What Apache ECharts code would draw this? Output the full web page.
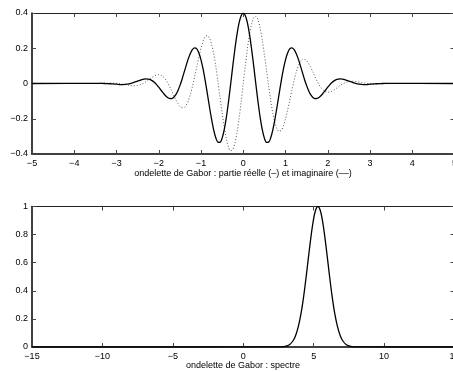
<!DOCTYPE html>
<html>
<head>
<meta charset="utf-8">
<script src="https://cdn.jsdelivr.net/npm/echarts@6/dist/echarts.min.js"></script>
<style>
html,body{margin:0;padding:0;background:#fff;}
#chart{width:453px;height:372px;}
</style>
</head>
<body>
<div id="chart"></div>
<script>
// ---- data ----
const timeX = [-5,
  -3.5,-3.4,-3.3,-3.2,-3.1,-3.0,-2.9,-2.8,-2.7,-2.6,
  -2.5,-2.45,-2.4,-2.35,-2.3,-2.25,-2.2,-2.15,-2.1,-2.05,
  -2.0,-1.95,-1.9,-1.85,-1.8,-1.75,-1.7,-1.65,-1.6,-1.55,
  -1.5,-1.45,-1.4,-1.35,-1.3,-1.25,-1.2,-1.15,-1.1,-1.05,
  -1.0,-0.95,-0.9,-0.85,-0.8,-0.75,-0.7,-0.65,-0.6,-0.55,
  -0.5,-0.45,-0.4,-0.35,-0.3,-0.25,-0.2,-0.15,-0.1,-0.05,
  0,
  0.05,0.1,0.15,0.2,0.25,0.3,0.35,0.4,0.45,0.5,
  0.55,0.6,0.65,0.7,0.75,0.8,0.85,0.9,0.95,1.0,
  1.05,1.1,1.15,1.2,1.25,1.3,1.35,1.4,1.45,1.5,
  1.55,1.6,1.65,1.7,1.75,1.8,1.85,1.9,1.95,2.0,
  2.05,2.1,2.15,2.2,2.25,2.3,2.35,2.4,2.45,2.5,
  2.6,2.7,2.8,2.9,3.0,3.1,3.2,3.3,3.4,3.5,
  5];
const realPart = [0,
  0.001,0.001,0.000,-0.001,-0.002,-0.004,-0.006,-0.005,-0.002,0.005,
  0.014,0.018,0.022,0.025,0.026,0.025,0.022,0.015,0.006,-0.006,
  -0.021,-0.037,-0.052,-0.067,-0.078,-0.085,-0.086,-0.080,-0.065,-0.042,
  -0.012,0.023,0.063,0.103,0.141,0.172,0.194,0.202,0.196,0.173,
  0.134,0.081,0.015,-0.057,-0.132,-0.202,-0.263,-0.308,-0.333,-0.334,
  -0.310,-0.262,-0.192,-0.105,-0.007,0.094,0.191,0.276,0.342,0.385,
  0.399,
  0.385,0.342,0.276,0.191,0.094,-0.007,-0.105,-0.192,-0.262,-0.310,
  -0.334,-0.333,-0.308,-0.263,-0.202,-0.132,-0.057,0.015,0.081,0.134,
  0.173,0.196,0.202,0.194,0.172,0.141,0.103,0.063,0.023,-0.012,
  -0.042,-0.065,-0.080,-0.086,-0.085,-0.078,-0.067,-0.052,-0.037,-0.021,
  -0.006,0.006,0.015,0.022,0.025,0.026,0.025,0.022,0.018,0.014,
  0.005,-0.002,-0.005,-0.006,-0.004,-0.002,-0.001,0.000,0.001,0.001,
  0];
const imagPart = [0,
  0.000,0.001,0.002,0.002,0.002,0.001,-0.002,-0.006,-0.010,-0.013,
  -0.011,-0.008,-0.003,0.003,0.010,0.019,0.028,0.036,0.044,0.048,
  0.050,0.047,0.039,0.027,0.009,-0.013,-0.038,-0.064,-0.090,-0.112,
  -0.129,-0.137,-0.136,-0.123,-0.098,-0.061,-0.015,0.039,0.095,0.151,
  0.201,0.241,0.266,0.272,0.258,0.223,0.168,0.097,0.013,-0.077,
  -0.166,-0.247,-0.314,-0.360,-0.381,-0.375,-0.341,-0.282,-0.201,-0.104,
  0,
  0.104,0.201,0.282,0.341,0.375,0.381,0.360,0.314,0.247,0.166,
  0.077,-0.013,-0.097,-0.168,-0.223,-0.258,-0.272,-0.266,-0.241,-0.201,
  -0.151,-0.095,-0.039,0.015,0.061,0.098,0.123,0.136,0.137,0.129,
  0.112,0.090,0.064,0.038,0.013,-0.009,-0.027,-0.039,-0.047,-0.050,
  -0.048,-0.044,-0.036,-0.028,-0.019,-0.010,-0.003,0.003,0.008,0.011,
  0.013,0.010,0.006,0.002,-0.001,-0.002,-0.002,-0.002,-0.001,0.000,
  0];
const freqX = [-15,2.5,2.7,2.9,3.1,3.3,3.5,3.7,3.9,4.1,4.3,4.5,4.7,4.9,5.1,5.3,5.5,5.7,5.9,6.1,6.3,6.5,6.7,6.9,7.1,7.3,7.5,7.7,7.9,8.1,15];
const spectrum = [0,0.0004,0.0012,0.0032,0.0079,0.0183,0.0392,0.0773,0.1409,0.2369,0.3679,0.5273,0.6977,0.8521,0.9608,1,0.9608,0.8521,0.6977,0.5273,0.3679,0.2369,0.1409,0.0773,0.0392,0.0183,0.0079,0.0032,0.0012,0.0004,0];
const topXTicks = {min:-5, max:5, interval:1};
const topYTicks = {min:-0.4, max:0.4, interval:0.2};
const botXTicks = {min:-15, max:15, interval:5};
const botYTicks = {min:0, max:1, interval:0.2};
const topLabel = 'ondelette de Gabor : partie réelle (–) et imaginaire (––)';
const botLabel = 'ondelette de Gabor : spectre';

// ---- chart ----
const FONT = '"Liberation Sans", Arial, Helvetica, sans-serif';
const fmt = v => { const r = Math.round(v*10)/10; return String(r).replace('-', '\u2212'); };
const lbl = {show:true, fontSize:9, fontFamily:FONT, color:'#000', formatter:fmt};
const mainLine = {show:true, onZero:false, lineStyle:{color:'#000', width:1.5}};
const thinLine = {show:true, onZero:false, lineStyle:{color:'#222', width:1}};
const tick = {show:true, inside:true, length:4, lineStyle:{color:'#444', width:1}};

function xAx(grid, t, primary){
  return Object.assign({type:'value', gridIndex:grid, position: primary?'bottom':'top',
    axisLine: primary?mainLine:thinLine, axisTick:tick, splitLine:{show:false},
    axisLabel: primary?Object.assign({margin:5, showMaxLabel:true, showMinLabel:true, hideOverlap:false}, lbl):{show:false}}, t);
}
function yAx(grid, t, primary){
  return Object.assign({type:'value', gridIndex:grid, position: primary?'left':'right',
    axisLine: primary?mainLine:thinLine, axisTick:tick, splitLine:{show:false},
    axisLabel: primary?Object.assign({margin:4}, lbl):{show:false}}, t);
}
const pairs = (xs, ys) => xs.map((x,i)=>[x, ys[i]]);

const chart = echarts.init(document.getElementById('chart'), null, {renderer:'canvas'});
chart.setOption({
  animation:false,
  backgroundColor:'#fff',
  grid:[
    {left:32, right:-1.5, top:13, height:141, containLabel:false, outerBoundsMode:'none'},
    {left:32, right:-1.5, top:206.5, height:140.5, containLabel:false, outerBoundsMode:'none'}
  ],
  xAxis:[xAx(0, topXTicks, true), xAx(0, topXTicks, false), xAx(1, botXTicks, true), xAx(1, botXTicks, false)],
  yAxis:[yAx(0, topYTicks, true), yAx(0, topYTicks, false), yAx(1, botYTicks, true), yAx(1, botYTicks, false)],
  series:[
    {type:'line', xAxisIndex:0, yAxisIndex:0, data:pairs(timeX, imagPart), showSymbol:false, smooth:0.3,
      lineStyle:{color:'#555', width:1, type:[1,2]}, z:2},
    {type:'line', xAxisIndex:0, yAxisIndex:0, data:pairs(timeX, realPart), showSymbol:false, smooth:0.3,
      lineStyle:{color:'#000', width:1.3}, z:3},
    {type:'line', xAxisIndex:2, yAxisIndex:2, data:pairs(freqX, spectrum), showSymbol:false, smooth:0.3,
      lineStyle:{color:'#000', width:1.3}, z:3}
  ],
  graphic:[
    {type:'text', x:243, y:174, style:{text:topLabel, fontSize:9, fontFamily:FONT, fill:'#000', textAlign:'center', textVerticalAlign:'middle'}},
    {type:'text', x:243, y:366, style:{text:botLabel, fontSize:9, fontFamily:FONT, fill:'#000', textAlign:'center', textVerticalAlign:'middle'}}
  ]
});
</script>
</body>
</html>
